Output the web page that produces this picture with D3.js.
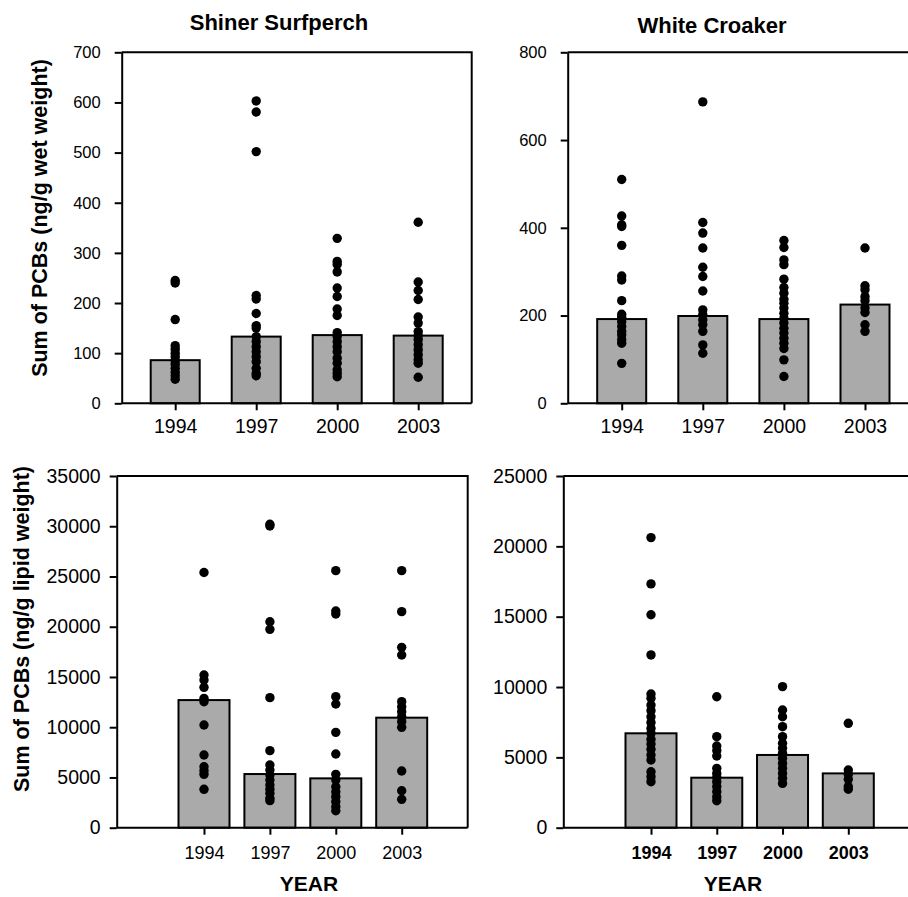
<!DOCTYPE html>
<html>
<head>
<meta charset="utf-8">
<script src="https://cdn.jsdelivr.net/npm/d3@7"></script>
<style>
  body { margin: 0; background: #fff; }
  svg { display: block; }
  .axis path, .axis line { stroke: #000; stroke-width: 2px; }
  .axis text { fill: #000; font-family: "Liberation Sans", Arial, sans-serif; }
</style>
</head>
<body>
<svg id="chart"></svg>
<script>
// categories
const years = ["1994", "1997", "2000", "2003"];

// Shiner Surfperch, wet weight (ng/g)
const surfWetMeans = [86, 133, 136, 135];
const surfWetPoints = [
  [245, 240, 167, 115, 108, 100, 93, 85, 78, 70, 62, 55, 48],
  [603, 581, 502, 215, 208, 179, 155, 150, 133, 123, 113, 103, 93, 83, 70, 60, 55],
  [329, 283, 277, 262, 230, 213, 188, 175, 141, 133, 123, 113, 103, 90, 80, 67, 60, 53],
  [361, 242, 225, 207, 172, 160, 143, 135, 127, 117, 107, 97, 87, 80, 52]
];

// White Croaker, wet weight (ng/g)
const croakWetMeans = [192, 199, 192, 225];
const croakWetPoints = [
  [510, 427, 407, 403, 360, 290, 281, 234, 203, 196, 186, 175, 164, 156, 145, 137, 91],
  [687, 412, 388, 354, 310, 289, 256, 213, 202, 190, 179, 164, 133, 114],
  [371, 355, 327, 316, 283, 264, 251, 237, 228, 217, 205, 194, 183, 171, 160, 148, 137, 125, 99, 61],
  [354, 268, 259, 243, 234, 217, 207, 179, 164]
];

// Shiner Surfperch, lipid weight (ng/g)
const surfLipMeans = [12700, 5340, 4910, 10950];
const surfLipPoints = [
  [25400, 15200, 14700, 13970, 12870, 12540, 10220, 7230, 6070, 5670, 5310, 3820],
  [30200, 30030, 20500, 19740, 12940, 7670, 6240, 5740, 5240, 4750, 4250, 3820, 3420, 2920, 2690],
  [25580, 21570, 21270, 13040, 12310, 9490, 7330, 5310, 4750, 4080, 3580, 3090, 2590, 2090, 1690],
  [25580, 21500, 17950, 17190, 12540, 12040, 11550, 11050, 10550, 9990, 5640, 3680, 2820]
];

// White Croaker, lipid weight (ng/g)
const croakLipMeans = [6710, 3555, 5170, 3860];
const croakLipPoints = [
  [20620, 17330, 15140, 12280, 9500, 9200, 8720, 8320, 7890, 7470, 7060, 6710, 6280, 5950, 5570, 5170, 4810, 3980, 3630, 3270],
  [9310, 6470, 5810, 5480, 5100, 4220, 3860, 3580, 3270, 2920, 2560, 2200, 1920],
  [10030, 8370, 7890, 7180, 6470, 6000, 5640, 5290, 4930, 4570, 4220, 3860, 3510, 3150],
  [7420, 4100, 3790, 3440, 2920, 2730]
];

// tick values per panel
const wetSurfTicks = d3.range(0, 701, 100);
const wetCroakTicks = d3.range(0, 801, 200);
const lipSurfTicks = d3.range(0, 35001, 5000);
const lipCroakTicks = d3.range(0, 25001, 5000);

const svg = d3.select("#chart").attr("width", 908).attr("height", 897);

function drawPanel(cfg) {
  let g = svg.append("g").attr("transform", `translate(${cfg.left},${cfg.top})`);

  let x = d3.scalePoint().domain(years).range(cfg.xRange);
  let y = d3.scaleLinear().domain([0, cfg.yMax]).range([cfg.height, 0]);

  // bars (means)
  g.selectAll(".bar")
    .data(cfg.means)
    .join("rect")
      .attr("x", (d, i) => x(years[i]) - cfg.barW / 2)
      .attr("y", d => y(d))
      .attr("width", cfg.barW)
      .attr("height", d => cfg.height - y(d))
      .attr("fill", "#aaaaaa")
      .attr("stroke", "#000")
      .attr("stroke-width", 2);

  // individual samples
  let pts = [];
  cfg.points.forEach((arr, i) => arr.forEach(v => pts.push({ year: years[i], value: v })));
  g.selectAll(".dot")
    .data(pts)
    .join("circle")
      .attr("cx", d => x(d.year))
      .attr("cy", d => y(d.value))
      .attr("r", 4.7)
      .attr("fill", "#000");

  // frame top + right
  g.append("path")
    .attr("d", `M0,0H${cfg.width}V${cfg.height}`)
    .attr("fill", "none")
    .attr("stroke", "#000")
    .attr("stroke-width", 2);

  let yAxis = d3.axisLeft(y).tickValues(cfg.ticks).tickFormat(d3.format("d"))
    .tickSize(7).tickSizeOuter(0).tickPadding(cfg.yPad);
  let yG = g.append("g").attr("class", "axis").call(yAxis);
  yG.selectAll("text").style("font-size", cfg.yFont + "px");

  // bottom axis line across the whole panel
  g.append("line")
    .attr("x1", 0).attr("x2", cfg.width)
    .attr("y1", cfg.height).attr("y2", cfg.height)
    .attr("stroke", "#000").attr("stroke-width", 2);

  let xAxis = d3.axisBottom(x).tickSize(7).tickSizeOuter(0).tickPadding(cfg.xPad);
  let xG = g.append("g").attr("class", "axis").attr("transform", `translate(0,${cfg.height})`).call(xAxis);
  xG.select(".domain").remove();
  xG.selectAll("text")
    .style("font-size", cfg.xFont + "px")
    .style("font-weight", cfg.xWeight);

  return g;
}

drawPanel({ left: 121.7, top: 52.3, width: 350, height: 351, yMax: 700, ticks: wetSurfTicks,
  xRange: [53.5, 296.5], barW: 49, means: surfWetMeans, points: surfWetPoints,
  yFont: 16.5, yPad: 14, xFont: 19.5, xPad: 9, xWeight: "normal" });

drawPanel({ left: 567.7, top: 52.3, width: 350, height: 351, yMax: 800, ticks: wetCroakTicks,
  xRange: [54, 297.3], barW: 49, means: croakWetMeans, points: croakWetPoints,
  yFont: 16.5, yPad: 14, xFont: 19.5, xPad: 9, xWeight: "normal" });

drawPanel({ left: 116.7, top: 476, width: 351, height: 351.7, yMax: 35000, ticks: lipSurfTicks,
  xRange: [87.3, 285], barW: 51, means: surfLipMeans, points: surfLipPoints,
  yFont: 19.5, yPad: 9, xFont: 18, xPad: 12, xWeight: "normal" });

drawPanel({ left: 563.3, top: 476, width: 351, height: 351.7, yMax: 25000, ticks: lipCroakTicks,
  xRange: [87.7, 285], barW: 51, means: croakLipMeans, points: croakLipPoints,
  yFont: 19.5, yPad: 9, xFont: 18, xPad: 12, xWeight: "bold" });

const sans = '"Liberation Sans", Arial, sans-serif';

// titles
svg.append("text").attr("x", 279).attr("y", 30).attr("text-anchor", "middle")
  .style("font-family", sans).style("font-weight", "bold").style("font-size", "22px")
  .text("Shiner Surfperch");
svg.append("text").attr("x", 712).attr("y", 33).attr("text-anchor", "middle")
  .style("font-family", sans).style("font-weight", "bold").style("font-size", "22px")
  .text("White Croaker");

// y labels
svg.append("text").attr("transform", "translate(47,218) rotate(-90)").attr("text-anchor", "middle")
  .style("font-family", sans).style("font-weight", "bold").style("font-size", "21.5px")
  .text("Sum of PCBs (ng/g wet weight)");
svg.append("text").attr("transform", "translate(29,629) rotate(-90)").attr("text-anchor", "middle")
  .style("font-family", sans).style("font-weight", "bold").style("font-size", "21.5px")
  .text("Sum of PCBs (ng/g lipid weight)");

// x labels
svg.append("text").attr("x", 309).attr("y", 891).attr("text-anchor", "middle")
  .style("font-family", sans).style("font-weight", "bold").style("font-size", "21px")
  .text("YEAR");
svg.append("text").attr("x", 733).attr("y", 891).attr("text-anchor", "middle")
  .style("font-family", sans).style("font-weight", "bold").style("font-size", "21px")
  .text("YEAR");
</script>
</body>
</html>
